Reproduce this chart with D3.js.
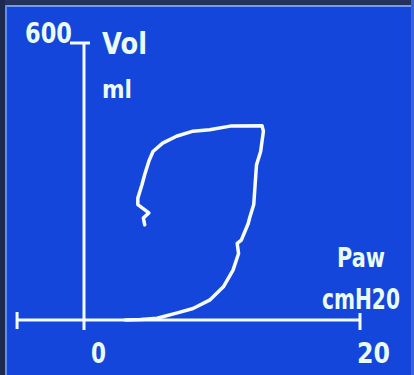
<!DOCTYPE html>
<html>
<head>
<meta charset="utf-8">
<script src="https://cdn.jsdelivr.net/npm/d3@7"></script>
<style>
  html, body { margin: 0; padding: 0; background: #1446dc; overflow: hidden; }
  svg { display: block; }
  .lbl { font-family: "DejaVu Sans", sans-serif; font-weight: bold; fill: #eafcf2; }
</style>
</head>
<body>
<div id="chart"></div>
<script>
// Pressure (cmH2O) and volume (ml) samples of the P-V loop, in drawing order
const pressure = [3.0, 4.1, 5.3, 5.7, 6.7, 7.9, 9.1, 10.1, 10.8, 11.2, 11.1, 11.4, 11.9, 12.0, 12.3, 12.4, 12.5, 12.8, 13.0, 12.9,
                  10.6, 9.1, 7.9, 6.7, 5.7, 5.0, 4.7, 4.4, 4.2, 3.9, 3.9, 4.7, 4.3, 4.4];
const volume   = [0, 1, 4, 7, 15, 25, 43, 72, 108, 144, 166, 173, 209, 221, 250, 293, 336, 365, 409, 421,
                  420, 412, 409, 398, 383, 365, 344, 315, 293, 264, 250, 232, 221, 206];
const xTickValues = [0, 20];
const xTickLabels = ["0", "20"];
const yTickValues = [600];
const yTickLabels = ["600"];
const xTitle = ["Paw", "cmH20"];
const yTitle = ["Vol", "ml"];
const xMin = -4.85;

const W = 414, H = 375;
const svg = d3.select("#chart").append("svg").attr("width", W).attr("height", H);

// screen background and bezel edges
svg.append("rect").attr("x", 0).attr("y", 0).attr("width", W).attr("height", H).attr("fill", "#1446dc");
svg.append("rect").attr("x", 0).attr("y", 0).attr("width", W).attr("height", 5).attr("fill", "#24325c");
svg.append("rect").attr("x", 0).attr("y", 0).attr("width", 5).attr("height", H).attr("fill", "#1c2a50");
svg.append("line").attr("x1", 5).attr("x2", 411).attr("y1", 6).attr("y2", 6).attr("stroke", "#6f9cf2").attr("stroke-width", 2);
svg.append("line").attr("x1", 6).attr("x2", 6).attr("y1", 5).attr("y2", H).attr("stroke", "#5f8ef0").attr("stroke-width", 2);
svg.append("rect").attr("x", 411).attr("y", 0).attr("width", 3).attr("height", H).attr("fill", "#3a64d8");

const x = d3.scaleLinear().domain([0, 20]).range([84, 360]);
const y = d3.scaleLinear().domain([0, 600]).range([320, 43]);

const axisColor = "#f2fbff";
const g = svg.append("g");

// x axis line with end caps
g.append("line").attr("x1", x(xMin)).attr("x2", x(20)).attr("y1", y(0)).attr("y2", y(0))
  .attr("stroke", axisColor).attr("stroke-width", 3);
g.append("line").attr("x1", x(xMin)).attr("x2", x(xMin)).attr("y1", y(0) - 8).attr("y2", y(0) + 9)
  .attr("stroke", axisColor).attr("stroke-width", 3);
g.append("line").attr("x1", x(20)).attr("x2", x(20)).attr("y1", y(0) - 7).attr("y2", y(0) + 10)
  .attr("stroke", axisColor).attr("stroke-width", 3);

// y axis line with top cap
g.append("line").attr("x1", x(0)).attr("x2", x(0)).attr("y1", y(600)).attr("y2", y(0) + 10)
  .attr("stroke", axisColor).attr("stroke-width", 3);
g.append("line").attr("x1", x(0) - 14).attr("x2", x(0) + 6).attr("y1", y(600)).attr("y2", y(600))
  .attr("stroke", axisColor).attr("stroke-width", 3);

// narrow "LCD" style label: natural text squeezed horizontally to a target width
function label(parent, str, px, py, size, width) {
  const t = parent.append("text").attr("class", "lbl").attr("font-size", size).text(str);
  const natural = t.node().getComputedTextLength();
  t.attr("transform", `translate(${px},${py}) scale(${width / natural},1)`);
  return t;
}

// tick labels
xTickValues.forEach((d, i) => {
  label(g, xTickLabels[i], i === 0 ? x(d) + 7 : x(d) - 3, 363, 28, i === 0 ? 15 : 33);
});
yTickValues.forEach((d, i) => {
  label(g, yTickLabels[i], x(0) - 59, y(d), 28, 47);
});

// axis titles
label(svg, xTitle[0], 337, 267, 27, 48);
label(svg, xTitle[1], 322, 309, 28, 78);
label(svg, yTitle[0], 102, 54, 31, 45);
label(svg, yTitle[1], 102, 98, 24, 30);

// P-V loop
const pts = pressure.map((p, i) => [p, volume[i]]);
const line = d3.line().x(d => x(d[0])).y(d => y(d[1])).curve(d3.curveLinear);
svg.append("path").datum(pts).attr("d", line)
  .attr("fill", "none").attr("stroke", "#f6fcff").attr("stroke-width", 3.5)
  .attr("stroke-linejoin", "round").attr("stroke-linecap", "round");
</script>
</body>
</html>
